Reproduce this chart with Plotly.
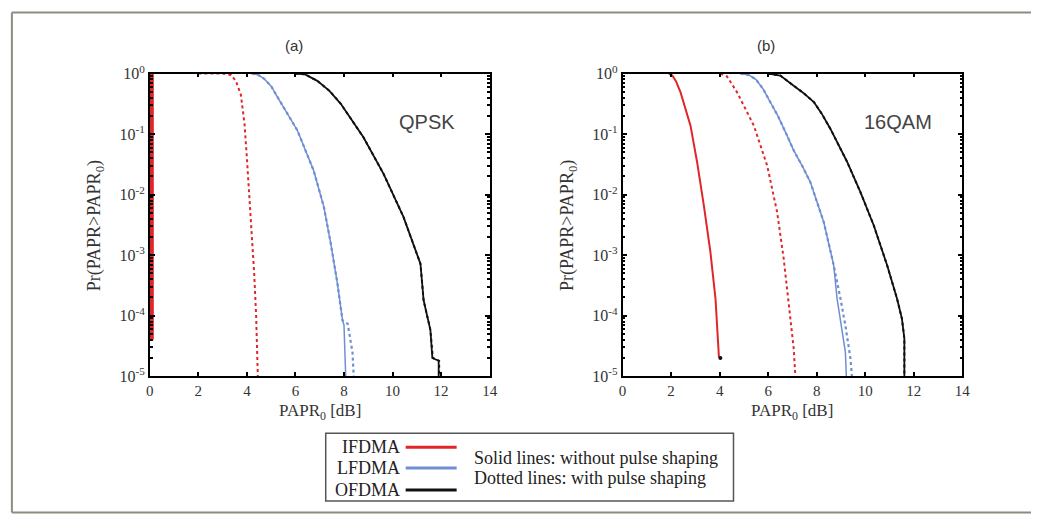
import plotly.graph_objects as go

W, H = 1039, 523

# PAPR CCDF curves, QPSK (panel a)
qpsk_ifdma_x = [0.0, 0.0]
qpsk_ifdma_y = [1.0, 4e-5]
qpsk_ifdma_ps_x = [2.0, 3.0, 3.35, 3.55, 3.75, 3.9, 4.0, 4.1, 4.2, 4.3, 4.38, 4.45]
qpsk_ifdma_ps_y = [1.0, 1.0, 0.95, 0.75, 0.45, 0.15, 0.04, 0.01, 0.002, 5e-4, 1e-4, 1e-5]
qpsk_lfdma_x = [4.2, 4.45, 4.7, 5.0, 5.26, 6.08, 6.75, 7.17, 7.45, 7.73, 7.94, 8.0, 8.03, 8.07]
qpsk_lfdma_y = [1.0, 0.96, 0.83, 0.62, 0.41, 0.115, 0.025, 0.0063, 0.0016, 3.4e-4, 8.3e-5, 7e-5, 3e-5, 1e-5]
qpsk_lfdma_ps_x = [4.2, 4.45, 4.7, 5.0, 5.26, 6.08, 6.75, 7.17, 7.45, 7.73, 7.94, 8.15, 8.35, 8.4]
qpsk_lfdma_ps_y = [1.0, 0.96, 0.83, 0.62, 0.41, 0.115, 0.025, 0.0063, 0.0016, 3.4e-4, 8.3e-5, 7.4e-5, 2.5e-5, 1e-5]
qpsk_ofdma_x = [6.0, 6.4, 6.9, 7.4, 7.86, 8.8, 9.63, 10.45, 11.15, 11.28, 11.56, 11.64, 11.9, 11.9]
qpsk_ofdma_y = [1.0, 0.97, 0.76, 0.52, 0.32, 0.089, 0.022, 0.0043, 7.2e-4, 1.8e-4, 5.8e-5, 2e-5, 1.8e-5, 1e-5]
qpsk_ofdma_ps_x = [6.0, 6.4, 6.9, 7.4, 7.86, 8.8, 9.63, 10.45, 11.15, 11.28, 11.56, 11.66, 11.92, 11.92]
qpsk_ofdma_ps_y = [1.0, 0.97, 0.76, 0.52, 0.32, 0.089, 0.022, 0.0043, 7.2e-4, 1.8e-4, 5.8e-5, 2e-5, 1.8e-5, 1e-5]

# PAPR CCDF curves, 16QAM (panel b)
qam_ifdma_x = [1.91, 2.05, 2.2, 2.39, 2.8, 3.07, 3.35, 3.62, 3.83, 3.97, 4.03]
qam_ifdma_y = [1.0, 0.93, 0.75, 0.49, 0.138, 0.0347, 0.0066, 0.00112, 1.9e-4, 2.1e-5, 2e-5]
qam_ifdma_ps_x = [4.03, 4.3, 4.72, 5.41, 5.96, 6.37, 6.64, 6.85, 7.05, 7.12]
qam_ifdma_ps_y = [1.0, 0.9, 0.49, 0.138, 0.030, 0.0051, 8.7e-4, 1.5e-4, 2.9e-5, 1e-5]
qam_lfdma_x = [4.86, 5.2, 5.5, 5.8, 6.1, 6.4, 6.75, 7.05, 7.4, 7.74, 8.29, 8.7, 8.84, 9.04, 9.18, 9.22]
qam_lfdma_y = [1.0, 0.95, 0.8, 0.55, 0.33, 0.2, 0.1, 0.054, 0.03, 0.016, 0.0035, 6.8e-4, 1.9e-4, 6.2e-5, 2.5e-5, 1e-5]
qam_lfdma_ps_x = [4.86, 5.2, 5.5, 5.8, 6.1, 6.4, 6.75, 7.05, 7.4, 7.74, 8.29, 8.7, 8.98, 9.18, 9.39, 9.45]
qam_lfdma_ps_y = [1.0, 0.95, 0.8, 0.55, 0.33, 0.2, 0.1, 0.054, 0.03, 0.016, 0.0035, 6.8e-4, 1.9e-4, 6.9e-5, 1.95e-5, 1e-5]
qam_ofdma_x = [6.0, 6.5, 7.05, 7.45, 7.88, 8.2, 8.56, 9.25, 9.8, 10.35, 10.9, 11.31, 11.51, 11.61, 11.61]
qam_ofdma_y = [1.0, 0.93, 0.63, 0.48, 0.34, 0.22, 0.123, 0.035, 0.011, 0.0031, 6.8e-4, 1.9e-4, 8.9e-5, 4.2e-5, 1e-5]

x_ticks = [0, 2, 4, 6, 8, 10, 12, 14]
y_ticks = [1, 1e-1, 1e-2, 1e-3, 1e-4, 1e-5]
y_tick_text = ["10<sup>0</sup>", "10<sup>-1</sup>", "10<sup>-2</sup>",
               "10<sup>-3</sup>", "10<sup>-4</sup>", "10<sup>-5</sup>"]

panel_titles = ["(a)", "(b)"]
panel_labels = ["QPSK", "16QAM"]
legend_names = ["IFDMA", "LFDMA", "OFDMA"]
legend_notes = ["Solid lines: without pulse shaping", "Dotted lines: with pulse shaping"]

RED = "#e0262a"
BLUE = "#6f8fd2"
BLACK = "#111111"
SERIF = "Liberation Serif, Times New Roman, serif"
SANS = "Liberation Sans, Arial, sans-serif"

# Layout positions below are screen pixels; the viewer shows the page with a
# small inset, so they are mapped back to figure pixels before use.
KX, BX = 0.989, 3.1
KY, BY = 0.963, 10.3


def px(x):
    return ((x - BX) / KX) / W


def py(y):
    return 1 - ((y - BY) / KY) / H


fig = go.Figure()


def add(x, y, color, dash, width, ax):
    fig.add_trace(go.Scatter(
        x=x, y=y, mode="lines", xaxis="x" + ax, yaxis="y" + ax,
        line=dict(color=color, dash=dash, width=width), showlegend=False,
        hoverinfo="skip"))


# panel a
add(qpsk_ifdma_x, qpsk_ifdma_y, RED, "solid", 8, "")
add(qpsk_ifdma_ps_x, qpsk_ifdma_ps_y, RED, "dot", 2, "")
add(qpsk_lfdma_x, qpsk_lfdma_y, BLUE, "solid", 1.5, "")
add(qpsk_lfdma_ps_x, qpsk_lfdma_ps_y, BLUE, "dot", 2.2, "")
add(qpsk_ofdma_ps_x, qpsk_ofdma_ps_y, BLACK, "dot", 2, "")
add(qpsk_ofdma_x, qpsk_ofdma_y, BLACK, "solid", 1.8, "")

# panel b
add(qam_ifdma_x, qam_ifdma_y, RED, "solid", 2, "2")
add(qam_ifdma_ps_x, qam_ifdma_ps_y, RED, "dot", 2, "2")
add(qam_lfdma_x, qam_lfdma_y, BLUE, "solid", 1.5, "2")
add(qam_lfdma_ps_x, qam_lfdma_ps_y, BLUE, "dot", 2.2, "2")
add(qam_ofdma_x, qam_ofdma_y, BLACK, "dot", 2, "2")
add(qam_ofdma_x, qam_ofdma_y, BLACK, "solid", 1.8, "2")

# end marker on the 16QAM IFDMA curve
fig.add_trace(go.Scatter(x=[qam_ifdma_x[-1]], y=[qam_ifdma_y[-1]], mode="markers",
                         xaxis="x2", yaxis="y2", marker=dict(color=BLACK, size=4),
                         showlegend=False, hoverinfo="skip"))

ydom = [py(376), py(73)]
common_x = dict(range=[0, 14], tickvals=x_ticks, ticks="inside", ticklen=4,
                showline=True, linecolor="black", linewidth=1.5, mirror="ticks",
                tickcolor="black", tickwidth=2, showgrid=False, zeroline=False,
                tickfont=dict(family=SERIF, size=15, color="#333"))
common_y = dict(type="log", range=[-5, 0], tickvals=y_ticks, ticktext=y_tick_text,
                ticks="inside", ticklen=5, tickwidth=2, tickcolor="black",
                showline=True, linecolor="black", linewidth=1.5, mirror="ticks",
                showgrid=False, zeroline=False, domain=ydom,
                minor=dict(ticks="inside", ticklen=3, tickcolor="black", tickwidth=1.5,
                           dtick="D1", showgrid=False),
                tickfont=dict(family=SERIF, size=16, color="#333"))

fig.update_layout(
    width=W, height=H, margin=dict(l=0, r=0, t=0, b=0),
    paper_bgcolor="white", plot_bgcolor="white",
    xaxis=dict(domain=[px(149), px(489)], anchor="y", **common_x),
    yaxis=dict(anchor="x", **common_y),
    xaxis2=dict(domain=[px(622), px(962)], anchor="y2", **common_x),
    yaxis2=dict(anchor="x2", **common_y),
)


def note(x, y, text, font, xanchor="center", **kw):
    return dict(x=px(x), y=py(y), text=text, showarrow=False, xref="paper", yref="paper",
                xanchor=xanchor, yanchor="middle", font=font, **kw)


ann = []
for cx, t, lab, lx, ytx, xtx in [(293, panel_titles[0], panel_labels[0], 426, 95, 319),
                                  (766, panel_titles[1], panel_labels[1], 898, 568, 792)]:
    ann.append(note(cx, 45, t, dict(family=SANS, size=15, color="#333")))
    ann.append(note(lx, 121, lab, dict(family=SANS, size=20, color="#444")))
    ann.append(note(ytx, 225, "Pr(PAPR>PAPR<sub>0</sub>)",
                    dict(family=SERIF, size=18, color="#333"), textangle=-90))
    ann.append(note(xtx, 412, "PAPR<sub>0</sub> [dB]", dict(family=SERIF, size=17, color="#333")))


def seg(x0, y0, x1, y1, color, width):
    return dict(type="line", xref="paper", yref="paper", x0=x0, y0=y0,
                x1=x1, y1=y1, line=dict(color=color, width=width))


# outer frame (open on the right) and legend box
FRAME = "#8c8c80"
f_top, f_bot = 1 - 1.5 / H, 1.5 / H
shapes = [
    seg(px(11), f_top, 1.0, f_top, FRAME, 2),
    seg(px(11), f_top, px(11), f_bot, FRAME, 2),
    seg(px(11), f_bot, 1.0, f_bot, FRAME, 2),
    dict(type="rect", xref="paper", yref="paper", x0=px(325), x1=px(733), y0=py(501), y1=py(433),
         line=dict(color="#555", width=1.5)),
]
for name, color, ly in zip(legend_names, [RED, BLUE, BLACK], [447, 468, 490]):
    ann.append(note(401, ly, name, dict(family=SERIF, size=18, color="#222"), xanchor="right"))
    shapes.append(seg(px(405), py(ly), px(456), py(ly), color, 3))
for txt, ly in zip(legend_notes, [458, 478]):
    ann.append(note(471, ly, txt, dict(family=SERIF, size=18, color="#222"), xanchor="left"))

fig.update_layout(annotations=ann, shapes=shapes)
fig.write_html("out.html")
